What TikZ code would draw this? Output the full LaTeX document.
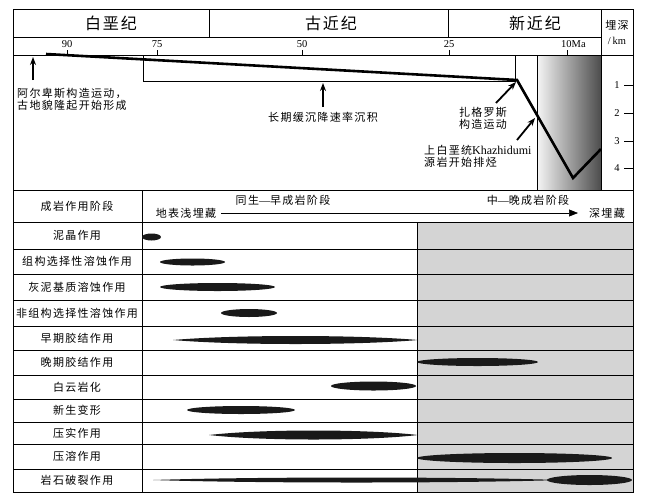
\documentclass[tikz,border=0pt]{standalone}
\usepackage{fontspec}
\setmainfont{Liberation Serif}
\newfontfamily\cjk[LetterSpace=12]{Noto Sans CJK SC}
\newfontfamily\cjkhead[LetterSpace=12]{Noto Sans CJK SC}
\usetikzlibrary{arrows.meta}
\newcommand{\lensband}[4]{%
  \fill[band] (#1,#3) .. controls ({#1+0.25*(#2-#1)},{#3-#4*1.333}) and ({#2-0.25*(#2-#1)},{#3-#4*1.333}) .. (#2,#3)
     .. controls ({#2-0.25*(#2-#1)},{#3+#4*1.333}) and ({#1+0.25*(#2-#1)},{#3+#4*1.333}) .. (#1,#3) -- cycle;}
\newcommand{\cdash}{{\rmfamily —}}
\tikzset{
  lbl/.style={font=\cjk\fontsize{11}{12}\selectfont, inner sep=0pt},
  hd/.style={font=\cjkhead\fontsize{16}{18}\selectfont, inner sep=0pt},
  num/.style={font=\fontsize{10.5}{12}\selectfont, inner sep=0pt},
  frame/.style={line width=0.8pt},
  burial/.style={line width=2.6pt, line join=miter},
  pointer/.style={line width=1.8pt, -{Stealth[length=8pt,width=6pt]}},
  band/.style={fill=black!90},
}
\begin{document}
\begin{tikzpicture}[x=1pt,y=-1pt]
\useasboundingbox (0,0) rectangle (647,499);
% shading
\shade[left color=gray!8, right color=black!70] (537,55) rectangle (601,190);
\fill[black!17] (417,222) rectangle (633,492);
% frame and header lines
\draw[frame] (13,9) rectangle (633,492);
\draw[frame] (13,37) -- (601,37);
\draw[frame] (13,55) -- (633,55);
\draw[frame] (13,190) -- (633,190);
\draw[frame] (209,9) -- (209,37);
\draw[frame] (448,9) -- (448,37);
\draw[frame] (601,9) -- (601,190);
\draw[frame] (537,55) -- (537,190);
\draw[frame] (143,55) rectangle (515,81);
% period names
\node[hd] (cret) at (111,23) {白垩纪};
\node[hd] (pal) at (331,23) {古近纪};
\node[hd] (neo) at (535,23) {新近纪};
\node[lbl] (depthT) at (617,25) {埋深};
\node[num] (depthU) at (617,41) {/\,km};
% age ticks
\foreach \xx/\lab in {67/90,157/75,302/50,449/25}{
  \draw[frame] (\xx,50) -- (\xx,55);
  \node[num] (age\lab) at (\xx,44) {\lab};
}
\draw[frame] (567,50) -- (567,55);
\node[num, anchor=west] (age10) at (561,44) {10Ma};
% depth ticks
\foreach \d/\yy in {1/85,2/113,3/141,4/168}{
  \draw[frame] (624,\yy) -- (633,\yy);
  \node[num] (dep\d) at (617,\yy) {\d};
}
% burial curve
\coordinate (b0) at (46,54);
\coordinate (b1) at (517,80);
\coordinate (b2) at (573,178);
\coordinate (b3) at (601,149);
\draw[burial] (b0) -- (b1) -- (b2) -- (b3);
% annotations
\coordinate (a1s) at (33,80); \coordinate (a1e) at (33,57);
\draw[pointer] (a1s) -- (a1e);
\node[lbl, align=left, anchor=west] (alps) at (17,99) {阿尔卑斯构造运动，\\古地貌隆起开始形成};
\coordinate (a2s) at (323,107); \coordinate (a2e) at (323,83);
\draw[pointer] (a2s) -- (a2e);
\node[lbl] (slow) at (323,117) {长期缓沉降速率沉积};
\coordinate (a3s) at (496,103); \coordinate (a3e) at (516,82);
\draw[pointer] (a3s) -- (a3e);
\node[lbl, align=center] (zag) at (483,118) {扎格罗斯\\构造运动};
\coordinate (a4s) at (517,140); \coordinate (a4e) at (535,118);
\draw[pointer] (a4s) -- (a4e);
\node[lbl, align=left, anchor=west] (khaz) at (424,156) {上白垩统{\rmfamily\fontsize{12}{12}\selectfont Khazhidumi}\\源岩开始排烃};
% lower table lines
\foreach \yy in {222,249,274,300,326,350,375,399,422,444,469}{
  \draw[frame] (13,\yy) -- (633,\yy);
}
\draw[frame] (142,190) -- (142,492);
\draw[frame] (417,222) -- (417,492);
% header row
\node[lbl] (stage) at (77,206) {成岩作用阶段};
\node[lbl] (early) at (283,200) {同生\cdash 早成岩阶段};
\node[lbl] (late) at (528,200) {中\cdash 晚成岩阶段};
\node[lbl] (shallow) at (186,213) {地表浅埋藏};
\node[lbl] (deep) at (607,213) {深埋藏};
\draw[line width=0.6pt, -{Triangle[length=9pt,width=7pt]}] (shallow.east) ++(5,0) coordinate (arrS) -- (578,213) coordinate (arrE);
% row labels
\node[lbl] (r1) at (77,235.5) {泥晶作用};
\node[lbl] (r2) at (77,261.5) {组构选择性溶蚀作用};
\node[lbl] (r3) at (77,287) {灰泥基质溶蚀作用};
\node[lbl] (r4) at (77,313) {非组构选择性溶蚀作用};
\node[lbl] (r5) at (77,338) {早期胶结作用};
\node[lbl] (r6) at (77,362.5) {晚期胶结作用};
\node[lbl] (r7) at (77,387) {白云岩化};
\node[lbl] (r8) at (77,410.5) {新生变形};
\node[lbl] (r9) at (77,433) {压实作用};
\node[lbl] (r10) at (77,456.5) {压溶作用};
\node[lbl] (r11) at (77,480.5) {岩石破裂作用};
% bands
\fill[band] (151.5,237) ellipse [x radius=9.5pt, y radius=3.5pt];
\fill[band] (192.5,262) ellipse [x radius=32.5pt, y radius=3.5pt];
\fill[band] (217.5,287) ellipse [x radius=57.5pt, y radius=4pt];
\fill[band] (249,313) ellipse [x radius=28pt, y radius=4pt];
\lensband{173}{418}{340}{4}
\fill[band] (477.5,362) ellipse [x radius=60.5pt, y radius=4pt];
\fill[band] (373.5,386) ellipse [x radius=42.5pt, y radius=4.5pt];
\fill[band] (241,410) ellipse [x radius=54pt, y radius=4pt];
\lensband{209}{418}{435}{4.5}
\fill[band] (514.5,458) ellipse [x radius=97.5pt, y radius=5pt];
\lensband{153}{560}{480}{2.5}
\fill[band] (589.5,480) ellipse [x radius=42.5pt, y radius=5pt];
\end{tikzpicture}
\end{document}
